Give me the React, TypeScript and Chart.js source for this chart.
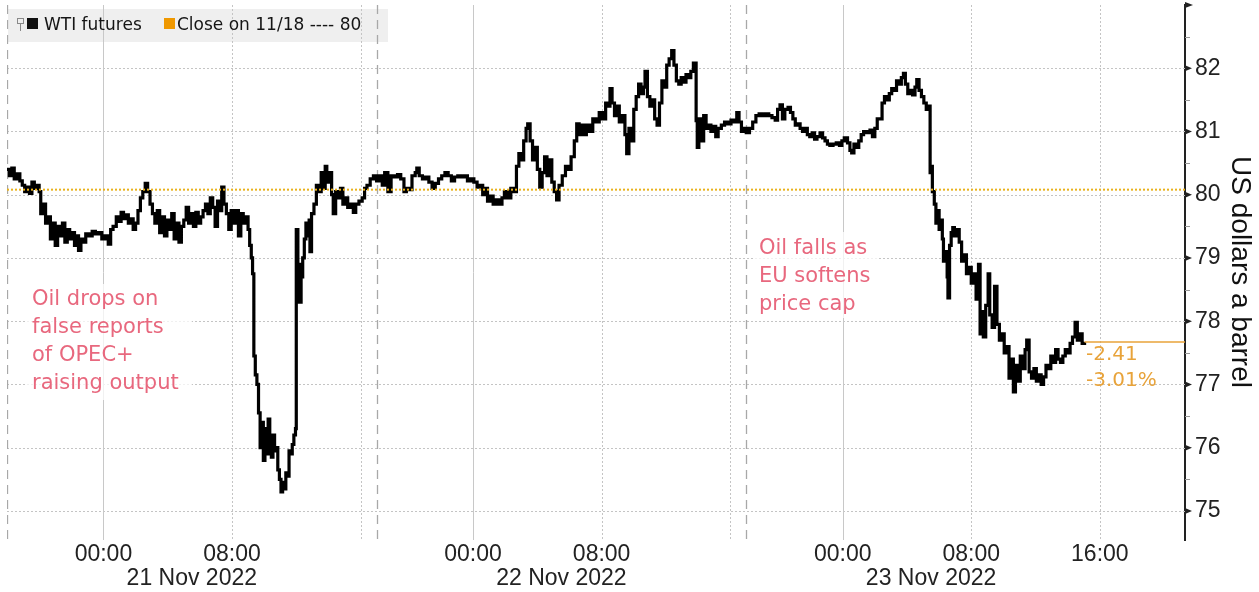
import React, { useEffect, useRef } from 'react';
import { Chart, registerables } from 'chart.js';

Chart.register(...registerables);

// x = trading hours since session open 18:00 on 20 Nov (the 17:00-18:00 daily break is removed)
const HOURS = [
  0.0, 0.15, 0.3, 0.45, 0.6, 0.8, 0.95, 1.1, 1.25, 1.4, 1.55, 1.7, 1.85, 2.0, 2.1, 2.25, 2.4, 2.55, 2.7, 2.85,
  3.0, 3.15, 3.3, 3.45, 3.6, 3.75, 3.9, 4.05, 4.2, 4.35, 4.45, 4.6, 4.75, 4.9, 5.1, 5.3, 5.5, 5.7, 5.9, 6.1,
  6.3, 6.45, 6.6, 6.8, 6.95, 7.1, 7.25, 7.4, 7.55, 7.7, 7.85, 8.0, 8.15, 8.3, 8.45, 8.6, 8.75, 8.9, 9.05, 9.2,
  9.35, 9.5, 9.65, 9.8, 9.95, 10.1, 10.25, 10.4, 10.55, 10.7, 10.85, 11.0, 11.15, 11.3, 11.45, 11.6, 11.75, 11.9, 12.05, 12.2,
  12.35, 12.5, 12.65, 12.8, 12.95, 13.1, 13.25, 13.36, 13.5, 13.65, 13.8, 13.95, 14.1, 14.25, 14.4, 14.55, 14.7, 14.85, 15.0, 15.1,
  15.2, 15.28, 15.36, 15.45, 15.55, 15.65, 15.75, 15.85, 15.95, 16.05, 16.15, 16.25, 16.35, 16.45, 16.55, 16.65, 16.75, 16.85, 16.95, 17.05,
  17.15, 17.25, 17.35, 17.45, 17.55, 17.65, 17.75, 17.85, 17.95, 18.0, 18.1, 18.2, 18.3, 18.4, 18.5, 18.6, 18.7, 18.8, 18.85, 18.95,
  19.1, 19.25, 19.4, 19.55, 19.7, 19.8, 19.9, 20.05, 20.2, 20.3, 20.45, 20.6, 20.75, 20.9, 21.05, 21.2, 21.35, 21.55, 21.7, 21.9,
  22.1, 22.25, 22.4, 22.6, 22.8, 23.0, 23.2, 23.35, 23.5, 23.7, 23.9, 24.1, 24.3, 24.5, 24.7, 24.85, 25.0, 25.2, 25.4, 25.5,
  25.65, 25.85, 26.05, 26.25, 26.45, 26.65, 26.85, 27.05, 27.25, 27.45, 27.65, 27.85, 28.05, 28.25, 28.45, 28.65, 28.85, 29.05, 29.25, 29.45,
  29.6, 29.75, 29.9, 30.05, 30.25, 30.45, 30.6, 30.8, 30.95, 31.15, 31.35, 31.55, 31.7, 31.85, 32.0, 32.15, 32.3, 32.4, 32.55, 32.7,
  32.85, 33.0, 33.15, 33.3, 33.45, 33.6, 33.75, 33.9, 34.05, 34.2, 34.35, 34.55, 34.75, 34.95, 35.1, 35.3, 35.45, 35.6, 35.75, 35.9,
  36.05, 36.25, 36.45, 36.65, 36.85, 37.05, 37.25, 37.4, 37.52, 37.65, 37.8, 37.95, 38.1, 38.3, 38.45, 38.56, 38.7, 38.85, 39.0, 39.15,
  39.3, 39.45, 39.6, 39.7, 39.85, 40.0, 40.15, 40.3, 40.45, 40.6, 40.75, 40.9, 41.05, 41.2, 41.36, 41.5, 41.65, 41.8, 41.95, 42.1,
  42.25, 42.4, 42.55, 42.71, 42.88, 42.95, 43.05, 43.2, 43.35, 43.5, 43.65, 43.8, 43.95, 44.1, 44.25, 44.45, 44.65, 44.85, 45.05, 45.25,
  45.41, 45.55, 45.7, 45.85, 46.0, 46.2, 46.4, 46.6, 46.8, 47.0, 47.2, 47.4, 47.6, 47.8, 47.95, 48.1, 48.25, 48.4, 48.6, 48.75,
  48.9, 49.05, 49.2, 49.35, 49.5, 49.65, 49.8, 49.95, 50.1, 50.25, 50.4, 50.59, 50.75, 50.9, 51.05, 51.2, 51.4, 51.6, 51.8, 51.95,
  52.1, 52.3, 52.45, 52.56, 52.7, 52.85, 53.0, 53.15, 53.3, 53.5, 53.7, 53.85, 54.0, 54.15, 54.33, 54.45, 54.6, 54.75, 54.9, 55.05,
  55.2, 55.35, 55.5, 55.65, 55.78, 55.9, 56.05, 56.2, 56.35, 56.5, 56.61, 56.75, 56.9, 57.05, 57.2, 57.33, 57.44, 57.5, 57.58, 57.7,
  57.8, 57.9, 58.0, 58.1, 58.2, 58.27, 58.4, 58.5, 58.55, 58.65, 58.75, 58.85, 58.95, 59.1, 59.25, 59.4, 59.55, 59.7, 59.85, 60.0,
  60.15, 60.3, 60.45, 60.55, 60.65, 60.75, 60.9, 61.05, 61.15, 61.3, 61.45, 61.6, 61.75, 61.9, 62.05, 62.2, 62.35, 62.5, 62.62, 62.75,
  62.9, 63.05, 63.2, 63.35, 63.45, 63.6, 63.75, 63.9, 64.05, 64.2, 64.35, 64.5, 64.65, 64.8, 64.95, 65.1, 65.25, 65.4, 65.55, 65.7,
  65.85, 66.0, 66.15, 66.3, 66.46, 66.6, 66.75, 66.9, 67.05,
];

const PRICES = [
  80.4, 80.3, 80.42, 80.25, 80.33, 80.22, 80.15, 80.05, 80.12, 80.02, 80.2, 80.1, 80.15, 80.05, 79.7, 79.85, 79.55, 79.65, 79.3, 79.55,
  79.2, 79.5, 79.35, 79.55, 79.25, 79.45, 79.3, 79.4, 79.2, 79.35, 79.12, 79.3, 79.25, 79.38, 79.35, 79.42, 79.38, 79.4, 79.3, 79.35,
  79.22, 79.45, 79.5, 79.65, 79.58, 79.72, 79.62, 79.68, 79.55, 79.62, 79.45, 79.55, 79.75, 79.95, 80.05, 80.18, 80.05, 79.85, 79.7, 79.55,
  79.75, 79.4, 79.65, 79.35, 79.6, 79.45, 79.7, 79.3, 79.55, 79.25, 79.5, 79.6, 79.8, 79.55, 79.7, 79.5, 79.72, 79.55, 79.65, 79.75,
  79.85, 79.7, 79.95, 79.8, 79.5, 79.9, 79.75, 80.12, 79.85, 79.7, 79.45, 79.75, 79.55, 79.75, 79.35, 79.7, 79.55, 79.65, 79.45, 79.2,
  79.0, 78.75, 77.45, 77.15, 77.0, 76.55, 76.0, 76.4, 75.8, 76.3, 75.9, 76.45, 76.05, 75.85, 76.2, 75.95, 76.0, 75.65, 75.5, 75.3,
  75.45, 75.35, 75.6, 75.55, 75.95, 75.9, 76.05, 76.2, 76.3, 79.45, 78.9, 78.3, 78.7, 79.0, 79.3, 79.55, 79.35, 79.6, 79.1, 79.7,
  79.85, 80.15, 80.05, 80.35, 80.1, 80.45, 80.2, 80.35, 80.0, 79.7, 80.05, 79.95, 80.1, 79.85, 79.95, 79.8, 79.85, 79.72, 79.85, 79.9,
  79.95, 80.1, 80.15, 80.25, 80.3, 80.22, 80.3, 80.15, 80.35, 80.05, 80.3, 80.28, 80.32, 80.25, 80.05, 80.1, 80.08, 80.3, 80.35, 80.42,
  80.3, 80.25, 80.28, 80.2, 80.1, 80.18, 80.25, 80.3, 80.35, 80.3, 80.22, 80.28, 80.3, 80.28, 80.3, 80.22, 80.25, 80.2, 80.12, 80.15,
  80.0, 80.1, 79.9, 79.98, 79.85, 79.92, 79.85, 79.95, 80.05, 79.95, 80.1, 80.05, 80.45, 80.65, 80.55, 80.85, 81.05, 81.12, 80.85, 80.55,
  80.75, 80.4, 80.12, 80.35, 80.6, 80.3, 80.55, 80.2, 80.05, 79.92, 80.15, 80.3, 80.45, 80.4, 80.6, 80.85, 81.12, 80.95, 81.1, 80.95,
  81.1, 81.0, 81.2, 81.15, 81.3, 81.2, 81.45, 81.4, 81.68, 81.45, 81.25, 81.4, 81.15, 81.25, 80.95, 80.65, 81.05, 80.85, 81.35, 81.55,
  81.75, 81.6, 81.7, 81.95, 81.55, 81.4, 81.5, 81.2, 81.1, 81.45, 81.8, 81.7, 82.05, 82.15, 82.28, 82.05, 81.8, 81.75, 81.85, 81.78,
  81.9, 81.85, 81.95, 82.08, 81.17, 80.75, 81.2, 80.85, 81.25, 81.05, 81.1, 81.0, 81.08, 80.92, 81.05, 81.1, 81.15, 81.12, 81.18, 81.15,
  81.3, 81.15, 81.0, 81.05, 80.98, 81.05, 81.15, 81.25, 81.28, 81.25, 81.28, 81.25, 81.22, 81.18, 81.35, 81.42, 81.2, 81.35, 81.38, 81.3,
  81.2, 81.1, 81.12, 81.05, 81.0, 81.05, 80.95, 80.92, 80.98, 80.88, 80.92, 80.98, 80.9, 80.85, 80.8, 80.78, 80.8, 80.82, 80.78, 80.85,
  80.9, 80.82, 80.7, 80.66, 80.8, 80.75, 80.85, 80.95, 81.0, 80.98, 81.02, 80.92, 81.05, 81.2, 81.2, 81.45, 81.55, 81.5, 81.6, 81.68,
  81.65, 81.8, 81.75, 81.85, 81.92, 81.75, 81.6, 81.65, 81.58, 81.7, 81.82, 81.65, 81.55, 81.45, 81.35, 81.4, 80.35, 80.45, 80.05, 79.85,
  79.55, 79.75, 79.45, 79.6, 79.3, 78.95, 79.1, 78.7, 78.37, 79.2, 79.4, 79.48, 79.35, 79.45, 79.25, 78.95, 79.05, 78.75, 78.85, 78.6,
  78.75, 78.35, 78.9, 77.8, 78.15, 77.75, 78.25, 78.75, 78.1, 77.9, 78.55, 77.95, 77.7, 77.8, 77.5, 77.6, 77.1, 77.4, 76.88, 77.3,
  77.05, 77.45, 77.25, 77.55, 77.7, 77.2, 77.1, 77.25, 77.05, 77.15, 77.0, 77.12, 77.3, 77.25, 77.45, 77.35, 77.55, 77.4, 77.35, 77.45,
  77.55, 77.5, 77.65, 77.75, 77.98, 77.7, 77.8, 77.65, 77.67,
];

const CLOSE_PRICE = 80.08;
const CHANGE_LABELS = ['-2.41', '-3.01%'];
const X_MIN = 0;
const X_MAX = 73.3;
const Y_MIN = 74.54;
const Y_MAX = 83.0;
const Y_TICKS = [75, 76, 77, 78, 79, 80, 81, 82];
const TIME_TICK_HOURS = [6, 14, 29, 37, 52, 60, 68];
const TIME_TICK_LABELS = ['00:00', '08:00', '00:00', '08:00', '00:00', '08:00', '16:00'];
const DATE_LABEL_HOURS = [11.5, 34.5, 57.5];
const DATE_LABELS = ['21 Nov 2022', '22 Nov 2022', '23 Nov 2022'];
const MIDNIGHT_HOURS = [6, 29, 52];
const DOTTED_HOURS = [14, 22, 37, 45, 60, 68];
const SESSION_HOURS = [0, 23, 46];
const NOTE_1 = ['Oil drops on', 'false reports', 'of OPEC+', 'raising output'];
const NOTE_2 = ['Oil falls as', 'EU softens', 'price cap'];
const LEGEND_1 = 'WTI futures';
const LEGEND_2 = 'Close on 11/18 ---- 80';
const Y_TITLE = 'US dollars a barrel';

const ORANGE = '#e8a33a';
const PINK = '#e8687e';
const TEXT = '#222222';
const FONT = '"Liberation Sans", Arial, sans-serif';
const DFONT = '"DejaVu Sans", Verdana, sans-serif';

const decorPlugin = {
  id: 'decor',
  beforeDraw(chart: any) {
    const ctx = chart.ctx;
    ctx.save();
    ctx.fillStyle = '#efefef';
    ctx.fillRect(8, 9, 380, 33);
    ctx.restore();
  },
  beforeDatasetsDraw(chart: any) {
    const { ctx, chartArea: a, scales } = chart;
    const xs = scales.x;
    const ys = scales.y;
    ctx.save();
    ctx.beginPath();
    ctx.rect(a.left, a.top, a.right - a.left, a.bottom - a.top);
    ctx.clip();
    ctx.lineWidth = 1;
    ctx.strokeStyle = '#c4c4c4';
    ctx.setLineDash([2, 2]);
    Y_TICKS.forEach((v) => {
      const y = Math.round(ys.getPixelForValue(v)) + 0.5;
      ctx.beginPath();
      ctx.moveTo(a.left, y);
      ctx.lineTo(a.right, y);
      ctx.stroke();
    });
    DOTTED_HOURS.forEach((h) => {
      const x = Math.round(xs.getPixelForValue(h)) + 0.5;
      ctx.beginPath();
      ctx.moveTo(x, a.top);
      ctx.lineTo(x, a.bottom);
      ctx.stroke();
    });
    ctx.setLineDash([]);
    ctx.strokeStyle = '#c8c8c8';
    MIDNIGHT_HOURS.forEach((h) => {
      const x = Math.round(xs.getPixelForValue(h)) + 0.5;
      ctx.beginPath();
      ctx.moveTo(x, a.top);
      ctx.lineTo(x, a.bottom);
      ctx.stroke();
    });
    ctx.strokeStyle = '#a8a8a8';
    ctx.lineWidth = 1.3;
    ctx.setLineDash([9, 6]);
    SESSION_HOURS.forEach((h) => {
      const x = Math.round(xs.getPixelForValue(h)) + 0.5;
      ctx.beginPath();
      ctx.moveTo(x, a.top);
      ctx.lineTo(x, a.bottom);
      ctx.stroke();
    });
    ctx.restore();

    ctx.save();
    ctx.fillStyle = 'rgba(255,255,255,0.75)';
    ctx.fillRect(26, 284, 166, 116);
    ctx.fillRect(754, 232, 124, 86);
    ctx.restore();
  },
  afterDraw(chart: any) {
    const { ctx, chartArea: a, scales } = chart;
    const xs = scales.x;
    const ys = scales.y;
    ctx.save();
    ctx.strokeStyle = '#8a8a8a';
    ctx.lineWidth = 1;
    ctx.strokeRect(17.5, 18.5, 6, 5);
    ctx.beginPath();
    ctx.moveTo(20.5, 23.5);
    ctx.lineTo(20.5, 31);
    ctx.stroke();
    ctx.fillStyle = '#111';
    ctx.fillRect(27, 18, 11, 11);
    ctx.fillStyle = '#ef9800';
    ctx.fillRect(164, 18, 11, 11);
    ctx.fillStyle = '#151515';
    ctx.font = `17px ${DFONT}`;
    ctx.textBaseline = 'alphabetic';
    ctx.textAlign = 'left';
    ctx.fillText(LEGEND_1, 44, 30);
    ctx.fillText(LEGEND_2, 177, 30);

    ctx.fillStyle = PINK;
    ctx.font = `21px ${DFONT}`;
    ctx.textBaseline = 'middle';
    NOTE_1.forEach((t, i) => ctx.fillText(t, 32, 300 + i * 27.7));
    NOTE_2.forEach((t, i) => ctx.fillText(t, 759, 249 + i * 27.7));

    ctx.fillStyle = ORANGE;
    ctx.font = `20px ${DFONT}`;
    ctx.fillText(CHANGE_LABELS[0], 1086, 355);
    ctx.fillText(CHANGE_LABELS[1], 1086, 381);

    const ax = a.right;
    ctx.fillStyle = '#222';
    Y_TICKS.forEach((v) => {
      const y = ys.getPixelForValue(v);
      ctx.beginPath();
      ctx.moveTo(ax, y - 3);
      ctx.lineTo(ax + 7, y);
      ctx.lineTo(ax, y + 3);
      ctx.closePath();
      ctx.fill();
    });
    ctx.beginPath();
    ctx.moveTo(ax, a.top - 3);
    ctx.lineTo(ax + 8, a.top);
    ctx.lineTo(ax, a.top + 3);
    ctx.closePath();
    ctx.fill();
    ctx.strokeStyle = '#999';
    ctx.lineWidth = 1;
    Y_TICKS.forEach((v) => {
      const y = Math.round(ys.getPixelForValue(v + 0.5)) + 0.5;
      ctx.beginPath();
      ctx.moveTo(ax, y);
      ctx.lineTo(ax + 5, y);
      ctx.stroke();
    });

    ctx.fillStyle = TEXT;
    ctx.font = `23px ${FONT}`;
    ctx.textAlign = 'center';
    ctx.textBaseline = 'middle';
    DATE_LABEL_HOURS.forEach((h, i) => {
      ctx.fillText(DATE_LABELS[i], xs.getPixelForValue(h), 579);
    });

    ctx.save();
    ctx.translate(1240, 272);
    ctx.rotate(Math.PI / 2);
    ctx.font = `28px ${FONT}`;
    ctx.fillStyle = '#111';
    ctx.textAlign = 'center';
    ctx.textBaseline = 'middle';
    ctx.fillText(Y_TITLE, 0, 0);
    ctx.restore();

    ctx.restore();
  },
};

export default function App() {
  const ref = useRef<HTMLCanvasElement | null>(null);
  useEffect(() => {
    if (!ref.current) return;
    const lastH = HOURS[HOURS.length - 1];
    const lastP = PRICES[PRICES.length - 1];
    const chart = new Chart(ref.current, {
      type: 'line',
      data: {
        datasets: [
          {
            label: 'Close on 11/18',
            data: [{ x: X_MIN, y: CLOSE_PRICE }, { x: X_MAX, y: CLOSE_PRICE }],
            borderColor: '#e9b21c',
            borderWidth: 2,
            borderDash: [2, 2],
            pointRadius: 0,
            order: 0,
          },
          {
            label: 'Last',
            data: [{ x: lastH, y: lastP }, { x: X_MAX, y: lastP }],
            borderColor: ORANGE,
            borderWidth: 1.5,
            pointRadius: 0,
            order: 0,
          },
          {
            label: 'WTI futures',
            data: HOURS.map((h, i) => ({ x: h, y: PRICES[i] })),
            borderColor: '#000000',
            borderWidth: 3.2,
            pointRadius: 0,
            stepped: true,
            order: 1,
          },
        ],
      },
      options: {
        animation: false,
        responsive: false,
        maintainAspectRatio: false,
        layout: { padding: { left: 7, top: 5, right: 0, bottom: 0 } },
        plugins: { legend: { display: false }, tooltip: { enabled: false } },
        scales: {
          x: {
            type: 'linear',
            min: X_MIN,
            max: X_MAX,
            grid: { display: false, drawTicks: false },
            border: { display: false },
            afterBuildTicks: (s: any) => {
              s.ticks = TIME_TICK_HOURS.map((v) => ({ value: v }));
            },
            afterFit: (s: any) => {
              s.height = 52;
              s.paddingLeft = 0;
              s.paddingRight = 0;
            },
            ticks: {
              autoSkip: false,
              maxRotation: 0,
              padding: 1,
              color: TEXT,
              font: { family: FONT, size: 23 },
              callback: (_v: any, i: number) => TIME_TICK_LABELS[i],
            },
          },
          y: {
            type: 'linear',
            position: 'right',
            min: Y_MIN,
            max: Y_MAX,
            grid: { display: false, drawTicks: false },
            border: { display: true, color: '#222', width: 2 },
            afterBuildTicks: (s: any) => {
              s.ticks = Y_TICKS.map((v) => ({ value: v }));
            },
            afterFit: (s: any) => {
              s.width = 74;
              s.paddingTop = 0;
              s.paddingBottom = 0;
            },
            ticks: {
              padding: 10,
              color: TEXT,
              font: { family: FONT, size: 23 },
            },
          },
        },
      },
      plugins: [decorPlugin],
    } as any);
    return () => chart.destroy();
  }, []);
  return (
    <div style={{ position: 'fixed', left: 0, top: 0, width: 1259, height: 592, background: '#fff' }}>
      <canvas ref={ref} width={1259} height={592} style={{ width: 1259, height: 592, display: 'block' }} />
    </div>
  );
}
